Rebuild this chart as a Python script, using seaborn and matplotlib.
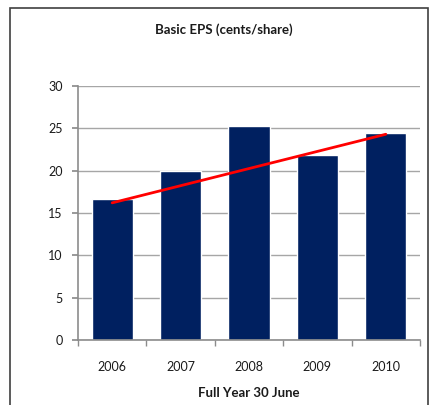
import matplotlib
matplotlib.use("Agg")
import matplotlib.pyplot as plt
import seaborn as sns
import pandas as pd
import numpy as np
from matplotlib.patches import Rectangle

years = ["2006", "2007", "2008", "2009", "2010"]
eps = [16.6, 20.0, 25.3, 21.8, 24.4]
trend_x = [0, 4]
trend_y = [16.2, 24.3]
y_ticks = [0, 5, 10, 15, 20, 25, 30]
title = "Basic EPS (cents/share)"
xlabel = "Full Year 30 June"

sns.set_theme(style="white")
plt.rcParams["font.family"] = ["Lato", "DejaVu Sans"]

fig = plt.figure(figsize=(4.29, 4.05), dpi=100)
ax = fig.add_axes([78/429, (405-340)/405, (420-78)/429, (340-86)/405])

df = pd.DataFrame({"year": years, "eps": eps})
sns.barplot(data=df, x="year", y="eps", color="#002060", width=0.6,
            saturation=1, ax=ax)
sns.lineplot(x=trend_x, y=trend_y, color="#FF0000", linewidth=2, ax=ax)

ax.set_ylim(0, 30)
ax.set_xlim(-0.5, 4.5)
ax.set_yticks(y_ticks)
ax.yaxis.grid(True, color="#A6A6A6", linewidth=1)
ax.set_axisbelow(True)
for s in ["top", "right"]:
    ax.spines[s].set_visible(False)
for s in ["left", "bottom"]:
    ax.spines[s].set_color("#8C8C8C")
    ax.spines[s].set_linewidth(1.2)

ax.set_xticks(np.arange(-0.5, 5, 1), minor=True)
ax.tick_params(axis="x", which="major", length=0, pad=15, labelsize=9, colors="#1a1a1a")
ax.tick_params(axis="x", which="minor", length=4, color="#8C8C8C", direction="out", bottom=True)
ax.tick_params(axis="y", which="major", length=4, color="#8C8C8C", left=True, labelsize=9, colors="#1a1a1a", pad=7)

ax.set_ylabel("")
ax.set_xlabel(xlabel, fontsize=9.5, fontweight="bold", labelpad=10, color="#1a1a1a")
fig.text(224/429, 1 - 30/405, title, ha="center", va="center",
         fontsize=9.5, fontweight="bold", color="#1a1a1a")

fig.patches.append(Rectangle((10/429, -0.1), 417.5/429, 1 - 8/405 + 0.1,
                             transform=fig.transFigure, fill=False,
                             edgecolor="#404040", linewidth=1.2))

fig.savefig("out.png", dpi=100)
